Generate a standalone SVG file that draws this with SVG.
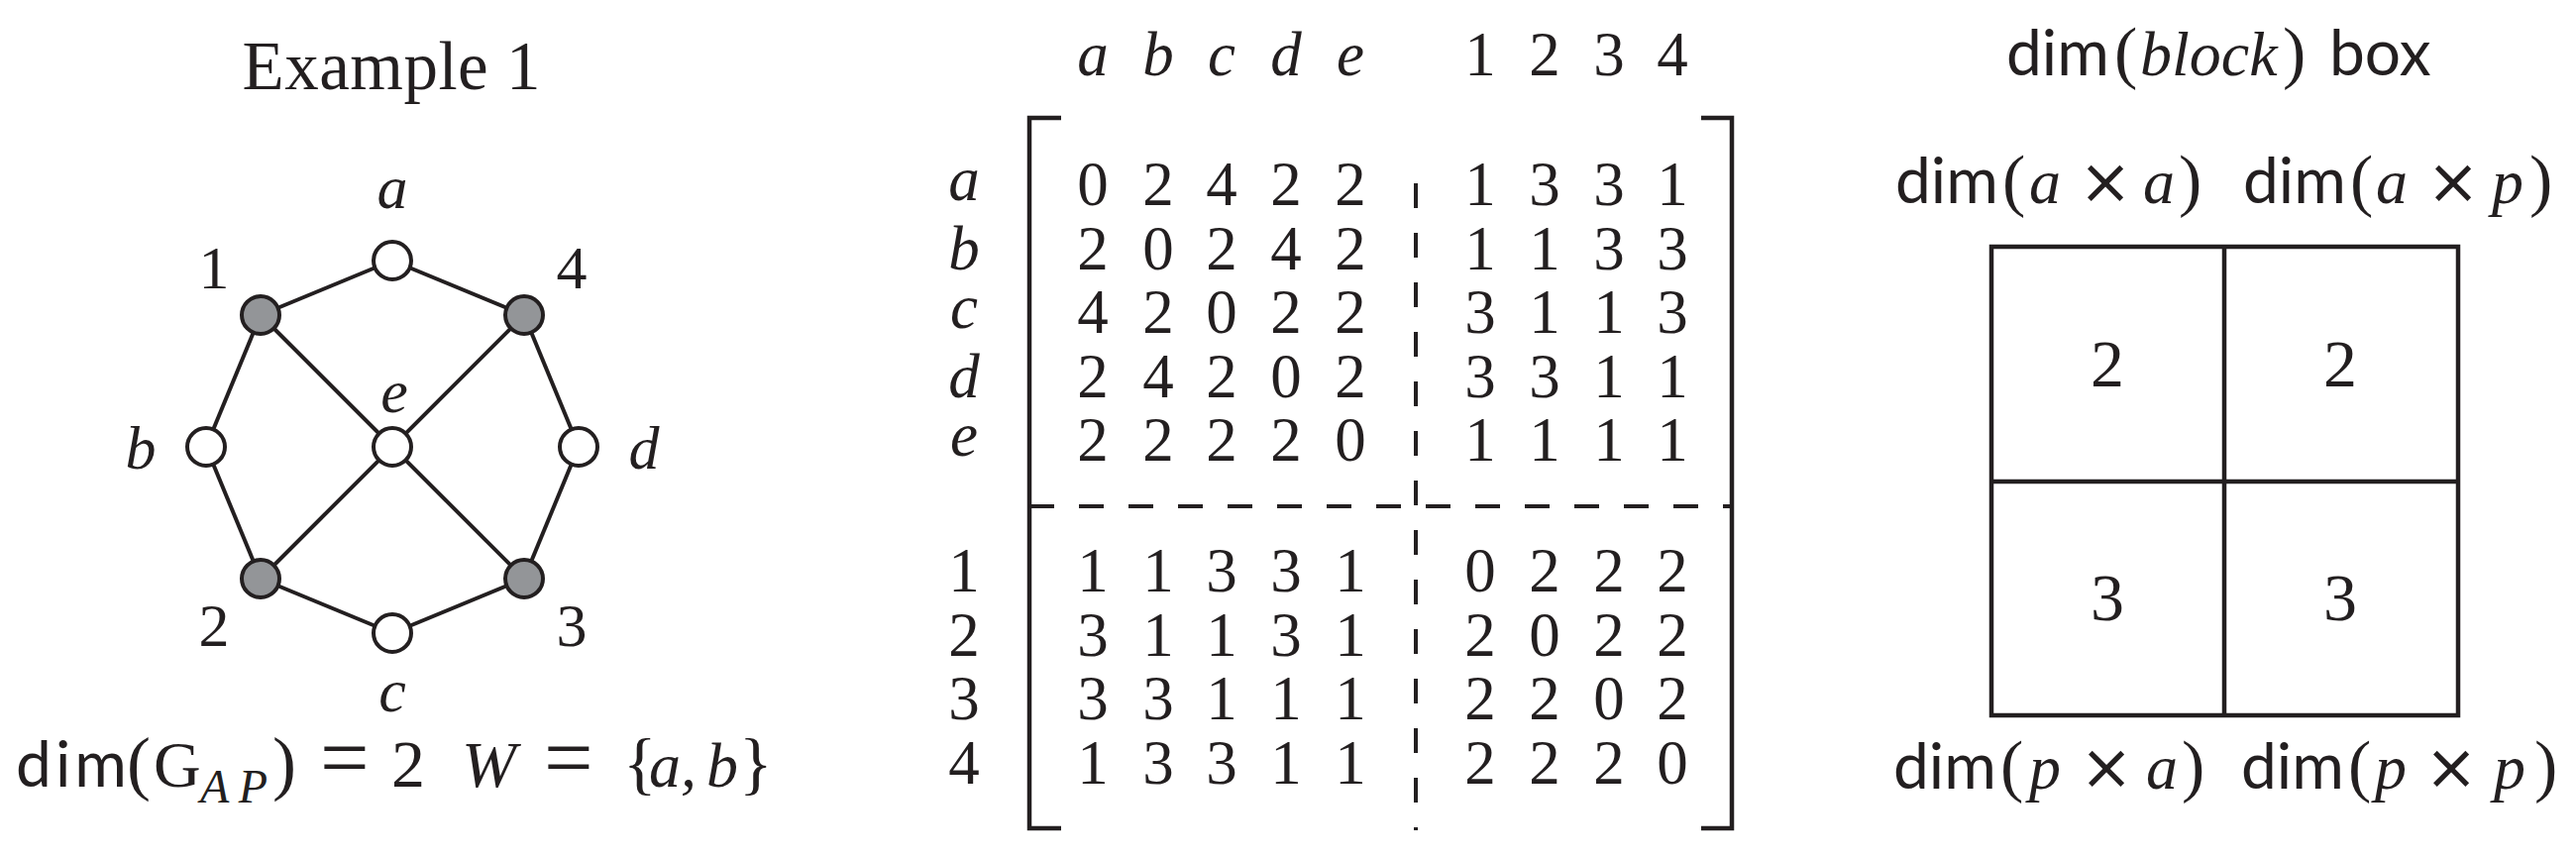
<svg xmlns="http://www.w3.org/2000/svg" width="2600" height="867" viewBox="0 0 2600 867">
<style>
text{fill:#231f20}
.rm{font-family:"Liberation Serif","DejaVu Serif",serif}
.it{font-family:"Liberation Serif","DejaVu Serif",serif;font-style:italic}
.sf{font-family:Lato,"Open Sans","Liberation Sans",sans-serif}
.sy{font-family:"DejaVu Sans","Liberation Sans",sans-serif;font-size:64px;text-anchor:middle}
.lbl{font-size:62px}
.edge{stroke:#231f20;stroke-width:4;fill:none}
.open{fill:#ffffff;stroke:#231f20;stroke-width:4}
.fill{fill:#939598;stroke:#231f20;stroke-width:4}
.br{stroke:#231f20;stroke-width:4.5;fill:none}
.dash{stroke:#231f20;stroke-width:4;fill:none;stroke-dasharray:25 25}
.m{font-family:"Liberation Serif","DejaVu Serif",serif;font-size:63px;text-anchor:middle}
.mi{font-family:"Liberation Serif","DejaVu Serif",serif;font-size:63px;font-style:italic;text-anchor:middle}
.lab{font-size:64px}
</style>

<!-- Left panel: graph -->
<g id="title-example">
<text class="rm" x="395" y="90" font-size="69" text-anchor="middle" textLength="301">Example 1</text>
</g>

<g id="connectors">
<line class="edge" x1="263" y1="318" x2="396" y2="263"/>
<line class="edge" x1="396" y1="263" x2="529" y2="318"/>
<line class="edge" x1="263" y1="318" x2="208" y2="451"/>
<line class="edge" x1="208" y1="451" x2="263" y2="584"/>
<line class="edge" x1="263" y1="584" x2="396" y2="639"/>
<line class="edge" x1="396" y1="639" x2="529" y2="584"/>
<line class="edge" x1="529" y1="584" x2="584" y2="451"/>
<line class="edge" x1="584" y1="451" x2="529" y2="318"/>
<line class="edge" x1="263" y1="318" x2="529" y2="584"/>
<line class="edge" x1="529" y1="318" x2="263" y2="584"/>
</g>

<g id="node-a"><circle class="open" cx="396" cy="263" r="19"/><text class="it lbl" x="396" y="210" text-anchor="middle">a</text></g>
<g id="node-1"><circle class="fill" cx="263" cy="318" r="19"/><text class="rm lbl" x="216" y="291" text-anchor="middle">1</text></g>
<g id="node-4"><circle class="fill" cx="529" cy="318" r="19"/><text class="rm lbl" x="577" y="291" text-anchor="middle">4</text></g>
<g id="node-b"><circle class="open" cx="208" cy="451" r="19"/><text class="it lbl" x="142" y="473" text-anchor="middle">b</text></g>
<g id="node-e"><circle class="open" cx="396" cy="451" r="19"/><text class="it lbl" x="398" y="416" text-anchor="middle">e</text></g>
<g id="node-d"><circle class="open" cx="584" cy="451" r="19"/><text class="it lbl" x="650" y="473" text-anchor="middle">d</text></g>
<g id="node-2"><circle class="fill" cx="263" cy="584" r="19"/><text class="rm lbl" x="216" y="652" text-anchor="middle">2</text></g>
<g id="node-3"><circle class="fill" cx="529" cy="584" r="19"/><text class="rm lbl" x="577" y="652" text-anchor="middle">3</text></g>
<g id="node-c"><circle class="open" cx="396" cy="639" r="19"/><text class="it lbl" x="396" y="718" text-anchor="middle">c</text></g>

<g id="formula">
<text class="sf" x="16" y="794" font-size="64" textLength="112">dim</text>
<text class="rm" x="128" y="794" font-size="72">(</text>
<text class="rm" x="155" y="794" font-size="66">G</text>
<text class="it" x="202" y="810" font-size="48" textLength="68">AP</text>
<text class="rm" x="275" y="794" font-size="72">)</text>
<text class="rm" x="323" y="794" font-size="88">=</text>
<text class="rm" x="395" y="794" font-size="68">2</text>
<text class="it" x="466" y="794" font-size="66">W</text>
<text class="rm" x="549" y="794" font-size="88">=</text>
<text class="rm" x="629" y="794" font-size="70">{</text>
<text class="it" x="655" y="794" font-size="64">a</text>
<text class="it" x="687" y="794" font-size="64">,</text>
<text class="it" x="713" y="794" font-size="64">b</text>
<text class="rm" x="746" y="794" font-size="70">}</text>
</g>

<!-- Middle panel: matrix -->
<g id="matrix-headers">
<text class="mi" x="1103" y="76">a</text>
<text class="mi" x="1169" y="76">b</text>
<text class="mi" x="1233" y="76">c</text>
<text class="mi" x="1298" y="76">d</text>
<text class="mi" x="1363" y="76">e</text>
<text class="m" x="1494" y="76">1</text>
<text class="m" x="1559" y="76">2</text>
<text class="m" x="1624" y="76">3</text>
<text class="m" x="1688" y="76">4</text>
</g>

<g id="matrix-row-labels">
<text class="mi" x="973" y="202">a</text>
<text class="mi" x="973" y="272">b</text>
<text class="mi" x="973" y="331">c</text>
<text class="mi" x="973" y="401">d</text>
<text class="mi" x="973" y="460">e</text>
<text class="m" x="973" y="597">1</text>
<text class="m" x="973" y="662">2</text>
<text class="m" x="973" y="726">3</text>
<text class="m" x="973" y="791">4</text>
</g>

<g id="matrix-frame">
<path class="br" d="M1071,119 H1039 V836 H1071"/>
<path class="br" d="M1717,119 H1748 V836 H1717"/>
<line class="dash" x1="1429" y1="185" x2="1429" y2="838"/>
<line class="dash" x1="1039" y1="511" x2="1748" y2="511"/>
</g>

<g id="matrix-entries">
<g id="block-aa">
<text class="m" y="207"><tspan x="1103">0</tspan><tspan x="1169">2</tspan><tspan x="1233">4</tspan><tspan x="1298">2</tspan><tspan x="1363">2</tspan></text>
<text class="m" y="272"><tspan x="1103">2</tspan><tspan x="1169">0</tspan><tspan x="1233">2</tspan><tspan x="1298">4</tspan><tspan x="1363">2</tspan></text>
<text class="m" y="336"><tspan x="1103">4</tspan><tspan x="1169">2</tspan><tspan x="1233">0</tspan><tspan x="1298">2</tspan><tspan x="1363">2</tspan></text>
<text class="m" y="401"><tspan x="1103">2</tspan><tspan x="1169">4</tspan><tspan x="1233">2</tspan><tspan x="1298">0</tspan><tspan x="1363">2</tspan></text>
<text class="m" y="465"><tspan x="1103">2</tspan><tspan x="1169">2</tspan><tspan x="1233">2</tspan><tspan x="1298">2</tspan><tspan x="1363">0</tspan></text>
</g>
<g id="block-ap">
<text class="m" y="207"><tspan x="1494">1</tspan><tspan x="1559">3</tspan><tspan x="1624">3</tspan><tspan x="1688">1</tspan></text>
<text class="m" y="272"><tspan x="1494">1</tspan><tspan x="1559">1</tspan><tspan x="1624">3</tspan><tspan x="1688">3</tspan></text>
<text class="m" y="336"><tspan x="1494">3</tspan><tspan x="1559">1</tspan><tspan x="1624">1</tspan><tspan x="1688">3</tspan></text>
<text class="m" y="401"><tspan x="1494">3</tspan><tspan x="1559">3</tspan><tspan x="1624">1</tspan><tspan x="1688">1</tspan></text>
<text class="m" y="465"><tspan x="1494">1</tspan><tspan x="1559">1</tspan><tspan x="1624">1</tspan><tspan x="1688">1</tspan></text>
</g>
<g id="block-pa">
<text class="m" y="597"><tspan x="1103">1</tspan><tspan x="1169">1</tspan><tspan x="1233">3</tspan><tspan x="1298">3</tspan><tspan x="1363">1</tspan></text>
<text class="m" y="662"><tspan x="1103">3</tspan><tspan x="1169">1</tspan><tspan x="1233">1</tspan><tspan x="1298">3</tspan><tspan x="1363">1</tspan></text>
<text class="m" y="726"><tspan x="1103">3</tspan><tspan x="1169">3</tspan><tspan x="1233">1</tspan><tspan x="1298">1</tspan><tspan x="1363">1</tspan></text>
<text class="m" y="791"><tspan x="1103">1</tspan><tspan x="1169">3</tspan><tspan x="1233">3</tspan><tspan x="1298">1</tspan><tspan x="1363">1</tspan></text>
</g>
<g id="block-pp">
<text class="m" y="597"><tspan x="1494">0</tspan><tspan x="1559">2</tspan><tspan x="1624">2</tspan><tspan x="1688">2</tspan></text>
<text class="m" y="662"><tspan x="1494">2</tspan><tspan x="1559">0</tspan><tspan x="1624">2</tspan><tspan x="1688">2</tspan></text>
<text class="m" y="726"><tspan x="1494">2</tspan><tspan x="1559">2</tspan><tspan x="1624">0</tspan><tspan x="1688">2</tspan></text>
<text class="m" y="791"><tspan x="1494">2</tspan><tspan x="1559">2</tspan><tspan x="1624">2</tspan><tspan x="1688">0</tspan></text>
</g>
</g>

<!-- Right panel: dim(block) box -->
<g id="title-box">
<text y="76" class="lab"><tspan class="sf" x="2025">dim</tspan><tspan class="rm" x="2134" font-size="70">(</tspan><tspan class="it" x="2160">block</tspan><tspan class="rm" x="2304" font-size="70">)</tspan><tspan class="sf" x="2351">box</tspan></text>
</g>

<g id="label-aa"><text y="205" class="lab"><tspan class="sf" x="1913">dim</tspan><tspan class="rm" x="2021" font-size="70">(</tspan><tspan class="it" x="2048">a</tspan><tspan class="it" x="2163">a</tspan><tspan class="rm" x="2199" font-size="70">)</tspan></text><text class="sy" x="2125" y="205">×</text></g>
<g id="label-ap"><text y="205" class="lab"><tspan class="sf" x="2264">dim</tspan><tspan class="rm" x="2372" font-size="70">(</tspan><tspan class="it" x="2398">a</tspan><tspan class="it" x="2515">p</tspan><tspan class="rm" x="2553" font-size="70">)</tspan></text><text class="sy" x="2476" y="205">×</text></g>
<g id="label-pa"><text y="796" class="lab"><tspan class="sf" x="1911">dim</tspan><tspan class="rm" x="2019" font-size="70">(</tspan><tspan class="it" x="2048">p</tspan><tspan class="it" x="2166">a</tspan><tspan class="rm" x="2202" font-size="70">)</tspan></text><text class="sy" x="2126" y="796">×</text></g>
<g id="label-pp"><text y="796" class="lab"><tspan class="sf" x="2262">dim</tspan><tspan class="rm" x="2370" font-size="70">(</tspan><tspan class="it" x="2397">p</tspan><tspan class="it" x="2517">p</tspan><tspan class="rm" x="2558" font-size="70">)</tspan></text><text class="sy" x="2474" y="796">×</text></g>

<g id="dim-box">
<rect x="2010" y="249" width="471" height="473" class="br"/>
<line class="br" x1="2245" y1="249" x2="2245" y2="722"/>
<line class="br" x1="2010" y1="486" x2="2481" y2="486"/>
</g>
<g id="cell-aa"><text class="rm" x="2127" y="390" font-size="68" text-anchor="middle">2</text></g>
<g id="cell-ap"><text class="rm" x="2362" y="390" font-size="68" text-anchor="middle">2</text></g>
<g id="cell-pa"><text class="rm" x="2127" y="626" font-size="68" text-anchor="middle">3</text></g>
<g id="cell-pp"><text class="rm" x="2362" y="626" font-size="68" text-anchor="middle">3</text></g>
</svg>
